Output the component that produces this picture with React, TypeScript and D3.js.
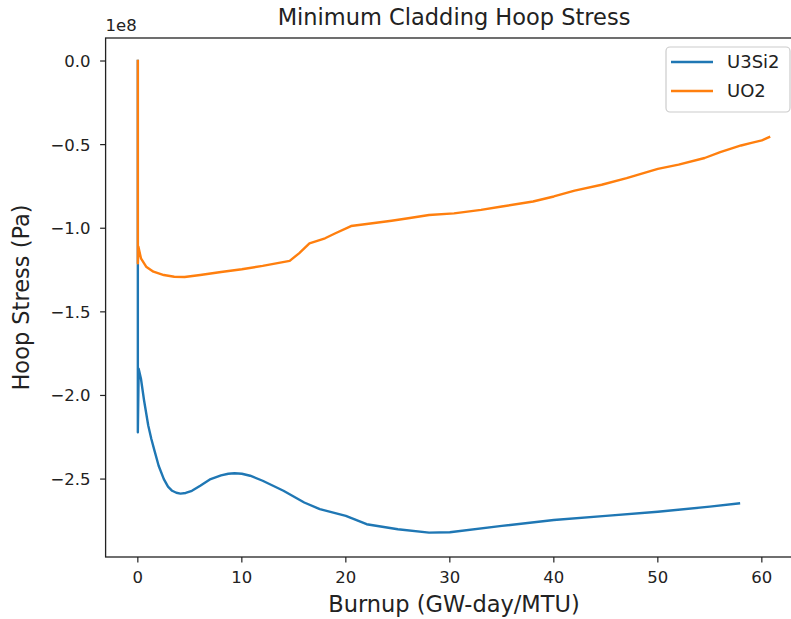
import React from 'react';
import * as d3 from 'd3';

// Burnup (GW-day/MTU) and minimum cladding hoop stress (Pa) for each fuel type
const u3si2Burnup = [0, 0, 0.08, 0.3, 0.6, 1.0, 1.3, 1.6, 2.0, 2.5, 2.9, 3.3, 3.7, 4.1, 4.6, 5.2, 6.0, 7.0, 8.0, 8.7, 9.3, 10.0, 10.8, 12.0, 14.0, 16.0, 17.5, 20.0, 22.0, 25.0, 28.0, 30.0, 35.0, 40.0, 45.0, 50.0, 55.0, 57.8];
const u3si2Stress = [0, -2.22e8, -1.84e8, -1.9e8, -2.03e8, -2.18e8, -2.26e8, -2.33e8, -2.42e8, -2.5e8, -2.545e8, -2.57e8, -2.582e8, -2.587e8, -2.583e8, -2.57e8, -2.54e8, -2.5e8, -2.478e8, -2.468e8, -2.465e8, -2.468e8, -2.48e8, -2.51e8, -2.57e8, -2.64e8, -2.68e8, -2.72e8, -2.77e8, -2.8e8, -2.82e8, -2.818e8, -2.78e8, -2.745e8, -2.72e8, -2.695e8, -2.665e8, -2.645e8];

const uo2Burnup = [0, 0, 0.05, 0.3, 0.8, 1.5, 2.5, 3.5, 4.5, 6.0, 8.0, 10.0, 12.0, 14.6, 15.5, 16.5, 18.0, 19.0, 20.5, 22.0, 24.4, 26.0, 28.0, 30.4, 33.0, 35.0, 38.0, 40.0, 42.0, 44.6, 47.0, 50.0, 52.0, 54.5, 56.0, 58.0, 59.0, 60.0, 60.7];
const uo2Stress = [0, -1.21e8, -1.11e8, -1.18e8, -1.23e8, -1.26e8, -1.28e8, -1.29e8, -1.292e8, -1.28e8, -1.262e8, -1.245e8, -1.225e8, -1.195e8, -1.15e8, -1.09e8, -1.06e8, -1.03e8, -0.987e8, -0.975e8, -0.955e8, -0.94e8, -0.921e8, -0.911e8, -0.89e8, -0.87e8, -0.84e8, -0.81e8, -0.775e8, -0.74e8, -0.7e8, -0.645e8, -0.62e8, -0.58e8, -0.545e8, -0.505e8, -0.49e8, -0.475e8, -0.455e8];

const seriesNames = ['U3Si2', 'UO2'];
const seriesColors = ['#1f77b4', '#ff7f0e'];

const xTicks = [0, 10, 20, 30, 40, 50, 60];
const yTicks = [0, -0.5e8, -1e8, -1.5e8, -2e8, -2.5e8];

const W = 791;
const H = 619;
const plot = { left: 105.6, right: 802.4, top: 38, bottom: 557 };
const FONT = "'DejaVu Sans', sans-serif";

export default function App() {
  const x = d3.scaleLinear().domain([-3.1, 63.9]).range([plot.left, plot.right]);
  const y = d3.scaleLinear().domain([0.1376e8, -2.966e8]).range([plot.top, plot.bottom]);

  const line = d3
    .line<[number, number]>()
    .x((d) => x(d[0]))
    .y((d) => y(d[1]))
    .curve(d3.curveLinear);

  const series = [
    { name: seriesNames[0], color: seriesColors[0], pts: u3si2Burnup.map((b, i) => [b, u3si2Stress[i]] as [number, number]) },
    { name: seriesNames[1], color: seriesColors[1], pts: uo2Burnup.map((b, i) => [b, uo2Stress[i]] as [number, number]) },
  ];

  const fmtY = (v: number) => {
    const s = (v / 1e8).toFixed(1);
    return s.replace('-', '\u2212');
  };

  const legendX = 666;
  const legendY = 47;

  return (
    <div style={{ position: 'absolute', left: 0, top: 0 }}>
      <svg width={W} height={H} style={{ display: 'block', background: '#fff' }} fontFamily={FONT}>
        <defs>
          <clipPath id="plotArea">
            <rect x={plot.left} y={plot.top} width={plot.right - plot.left} height={plot.bottom - plot.top} />
          </clipPath>
        </defs>
        <rect x={0} y={0} width={W} height={H} fill="#fff" />

        {/* data lines */}
        <g clipPath="url(#plotArea)">
          {series.map((s) => (
            <path
              key={s.name}
              d={line(s.pts) || ''}
              fill="none"
              stroke={s.color}
              strokeWidth={2.4}
              strokeLinejoin="round"
              strokeLinecap="square"
            />
          ))}
        </g>

        {/* spines */}
        <rect
          x={plot.left}
          y={plot.top}
          width={plot.right - plot.left}
          height={plot.bottom - plot.top}
          fill="none"
          stroke="#222"
          strokeWidth={1.3}
        />

        {/* x axis */}
        {xTicks.map((t) => (
          <g key={`x${t}`}>
            <line x1={x(t)} x2={x(t)} y1={plot.bottom} y2={plot.bottom + 5.5} stroke="#222" strokeWidth={1.2} />
            <text x={x(t)} y={plot.bottom + 26} fontSize={16.5} textAnchor="middle" fill="#222">
              {t}
            </text>
          </g>
        ))}
        <text x={(plot.left + plot.right) / 2} y={612} fontSize={22.5} textAnchor="middle" fill="#222">
          Burnup (GW-day/MTU)
        </text>

        {/* y axis */}
        {yTicks.map((t) => (
          <g key={`y${t}`}>
            <line x1={plot.left - 5.5} x2={plot.left} y1={y(t)} y2={y(t)} stroke="#222" strokeWidth={1.2} />
            <text x={plot.left - 15} y={y(t)} dy="0.36em" fontSize={16.5} textAnchor="end" fill="#222">
              {fmtY(t)}
            </text>
          </g>
        ))}
        <text x={plot.left} y={31} fontSize={16.5} fill="#222">
          1e8
        </text>
        <text
          transform={`translate(29, ${(plot.top + plot.bottom) / 2}) rotate(-90)`}
          fontSize={22.5}
          textAnchor="middle"
          fill="#222"
        >
          Hoop Stress (Pa)
        </text>

        {/* title */}
        <text x={(plot.left + plot.right) / 2} y={25} fontSize={22.5} textAnchor="middle" fill="#222">
          Minimum Cladding Hoop Stress
        </text>

        {/* legend */}
        <g>
          <rect
            x={legendX}
            y={legendY}
            width={124}
            height={65}
            rx={4}
            fill="#fff"
            fillOpacity={0.8}
            stroke="#ccc"
            strokeWidth={1.2}
          />
          {series.map((s, i) => (
            <g key={`lg${s.name}`}>
              <line
                x1={legendX + 5}
                x2={legendX + 47}
                y1={legendY + 15 + i * 29}
                y2={legendY + 15 + i * 29}
                stroke={s.color}
                strokeWidth={2.4}
              />
              <text x={legendX + 61} y={legendY + 15 + i * 29} dy="0.36em" fontSize={18} fill="#222">
                {s.name}
              </text>
            </g>
          ))}
        </g>
      </svg>
    </div>
  );
}
